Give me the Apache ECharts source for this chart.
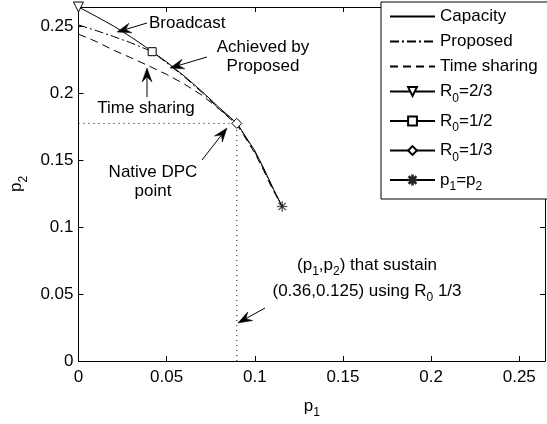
<!DOCTYPE html>
<html><head><meta charset="utf-8">
<script src="https://cdn.jsdelivr.net/npm/echarts@6/dist/echarts.min.js"></script>
<style>html,body{margin:0;padding:0;background:#fff}#c{width:547px;height:424px}</style>
</head><body><div id="c"></div>
<script>
// ---- data ----
const capP1 = [0, 0.01, 0.02, 0.03, 0.04, 0.05, 0.06, 0.07, 0.08, 0.09, 0.10, 0.105, 0.11, 0.1155];
const capP2 = [0.2646, 0.2576, 0.2503, 0.2420, 0.2330, 0.2235, 0.2130, 0.2015, 0.1892, 0.1775, 0.1572, 0.1442, 0.1302, 0.1155];
const propP1 = [0, 0.01, 0.02, 0.03, 0.0418, 0.05, 0.06, 0.07, 0.08, 0.0898, 0.10, 0.105, 0.11, 0.1155];
const propP2 = [0.2512, 0.2470, 0.2425, 0.2377, 0.2312, 0.2228, 0.2124, 0.2008, 0.1882, 0.1776, 0.1564, 0.1434, 0.1295, 0.1155];
const tsP1 = [0, 0.01, 0.02, 0.03, 0.04, 0.05, 0.06, 0.07, 0.08, 0.09, 0.10, 0.105, 0.11, 0.1155];
const tsP2 = [0.2443, 0.2388, 0.2323, 0.2265, 0.2205, 0.2142, 0.2070, 0.1987, 0.1880, 0.1765, 0.1555, 0.1425, 0.1285, 0.1155];
const r23 = [[0, 0.2646]];
const r12 = [[0.0418, 0.2312]];
const r13 = [[0.0898, 0.1776]];
const eqPt = [[0.1155, 0.1155]];
const tickVals = [0, 0.05, 0.1, 0.15, 0.2, 0.25];
const axisMax = 0.2646;
const seriesNames = ['Capacity', 'Proposed', 'Time sharing', 'R0=2/3', 'R0=1/2', 'R0=1/3', 'p1=p2'];
const legendLabels = {
  'Capacity': 'Capacity', 'Proposed': 'Proposed', 'Time sharing': 'Time sharing',
  'R0=2/3': 'R{s|0}=2/3', 'R0=1/2': 'R{s|0}=1/2', 'R0=1/3': 'R{s|0}=1/3', 'p1=p2': 'p{s|1}=p{s|2}'
};

const zip = (a, b) => a.map((v, i) => [v, b[i]]);
const FONT = '"Liberation Sans", Arial, Helvetica, sans-serif';
const FS = 17;
const subRich = { s: { fontSize: 12, fontFamily: FONT, color: '#000', padding: [14, 0, 0, 0] } };

const chart = echarts.init(document.getElementById('c'), null, { renderer: 'canvas' });

const asterisk = 'path://M-0.3,-5L0.3,-5L0.3,5L-0.3,5Z M-5,-0.3L5,-0.3L5,0.3L-5,0.3Z M-3.75,-3.33L-3.33,-3.75L3.75,3.33L3.33,3.75Z M3.33,-3.75L3.75,-3.33L-3.33,3.75L-3.75,3.33Z';

function lineSeries(name, data, type) {
  return { name, type: 'line', data, symbol: 'none', smooth: false, silent: true, animation: false,
    lineStyle: { color: '#000', width: 1, type }, itemStyle: { color: 'rgba(0,0,0,0)', borderWidth: 0 } };
}
function markerSeries(name, data, symbol, size, rotate) {
  const star = symbol === asterisk;
  return { name, type: 'line', data, symbol, symbolSize: size, symbolRotate: rotate || 0, showSymbol: true,
    animation: false, silent: true,
    lineStyle: { color: '#000', width: 1 },
    itemStyle: { color: star ? '#222' : '#fff', borderColor: star ? '#222' : '#000', borderWidth: star ? 0.4 : 1 } };
}

const axisCommon = {
  type: 'value', min: 0, max: axisMax, interval: 0.05,
  axisLine: { show: true, onZero: false, lineStyle: { color: '#000', width: 1 } },
  axisTick: { show: true, inside: true, length: 5, lineStyle: { color: '#000' } },
  splitLine: { show: false },
};
const labelFmt = v => (tickVals.some(t => Math.abs(t - v) < 1e-9) ? String(+v.toFixed(2)) : '');

const option = {
  backgroundColor: '#fff',
  animation: false,
  grid: { left: 77, right: 2, top: 7, bottom: 55, containLabel: false },
  xAxis: [
    Object.assign({}, axisCommon, {
      position: 'bottom',
      axisLabel: { show: true, color: '#000', fontSize: FS, fontFamily: FONT, margin: 8, formatter: labelFmt, showMaxLabel: false },
      name: 'p{s|1}', nameLocation: 'middle', nameGap: 32,
      nameTextStyle: { color: '#000', fontSize: FS, fontFamily: FONT, rich: subRich }
    }),
    Object.assign({}, axisCommon, { position: 'top', axisLabel: { show: false } })
  ],
  yAxis: [
    Object.assign({}, axisCommon, {
      position: 'left',
      axisLabel: { show: true, color: '#000', fontSize: FS, fontFamily: FONT, margin: 5, formatter: labelFmt, showMaxLabel: false },
      name: 'p{s|2}', nameLocation: 'middle', nameGap: 48,
      nameTextStyle: { color: '#000', fontSize: FS, fontFamily: FONT, rich: subRich }
    }),
    Object.assign({}, axisCommon, { position: 'right', axisLabel: { show: false } })
  ],
  legend: {
    data: seriesNames, orient: 'vertical', left: 381, top: 2,
    padding: [6, 12, 6, 8], itemWidth: 45, itemHeight: 11, itemGap: 8,
    borderColor: '#000', borderWidth: 1, backgroundColor: '#fff', borderRadius: 0,
    selectedMode: false,
    formatter: n => legendLabels[n],
    textStyle: { color: '#000', fontSize: FS, fontFamily: FONT, rich: subRich }
  },
  series: [
    lineSeries('Capacity', zip(capP1, capP2), 'solid'),
    lineSeries('Proposed', zip(propP1, propP2), [9, 3, 2, 3]),
    lineSeries('Time sharing', zip(tsP1, tsP2), [8, 5]),
    markerSeries('R0=2/3', r23, 'triangle', 10, 180),
    markerSeries('R0=1/2', r12, 'rect', 8),
    markerSeries('R0=1/3', r13, 'diamond', 10),
    markerSeries('p1=p2', eqPt, asterisk, 10),
    { name: 'guide', type: 'line', symbol: 'none', silent: true, animation: false,
      data: [[0, r13[0][1]], r13[0], [r13[0][0], 0]],
      lineStyle: { color: '#000', width: 1, type: [1, 4] }, z: 1 }
  ]
};
chart.setOption(option);

// ---- annotations (pixel layout) ----
function arrow(x1, y1, x2, y2) {
  const dx = x2 - x1, dy = y2 - y1, L = Math.hypot(dx, dy);
  const ux = dx / L, uy = dy / L, px = -uy, py = ux;
  const hl = 14, hw = 5, notch = 9;
  const bx = x2 - ux * hl, by = y2 - uy * hl;
  const nx = x2 - ux * notch, ny = y2 - uy * notch;
  return [
    { type: 'line', shape: { x1, y1, x2: nx, y2: ny }, style: { stroke: '#000', lineWidth: 1 }, z: 100 },
    { type: 'polygon', shape: { points: [[x2, y2], [bx + px * hw, by + py * hw], [nx, ny], [bx - px * hw, by - py * hw]] },
      style: { fill: '#000', stroke: '#000', lineWidth: 0.5 }, z: 100 }
  ];
}
function label(text, x, y, align) {
  return { type: 'text', x, y, z: 100,
    style: { text, fill: '#000', font: FS + 'px ' + FONT, align: align || 'center', verticalAlign: 'middle',
      lineHeight: 19, rich: { s: { fontSize: 12, fontFamily: FONT, fill: '#000', padding: [14, 0, 0, 0] } } } };
}
const g = [];
g.push(label('Broadcast', 149, 23, 'left'));
g.push(...arrow(147, 23, 117, 32));
g.push(label('Achieved by\nProposed', 263, 57));
g.push(...arrow(207, 57, 170, 68));
g.push(label('Time sharing', 146, 108));
g.push(...arrow(147, 97, 147, 68));
g.push(label('Native DPC\npoint', 153, 182));
g.push(...arrow(202, 160, 227, 128));
g.push(label('(p{s|1},p{s|2}) that sustain', 367, 265));
g.push(label('(0.36,0.125) using R{s|0} 1/3', 367, 291));
g.push(...arrow(265, 308, 238, 323));
chart.setOption({ graphic: g });
</script>
</body></html>
